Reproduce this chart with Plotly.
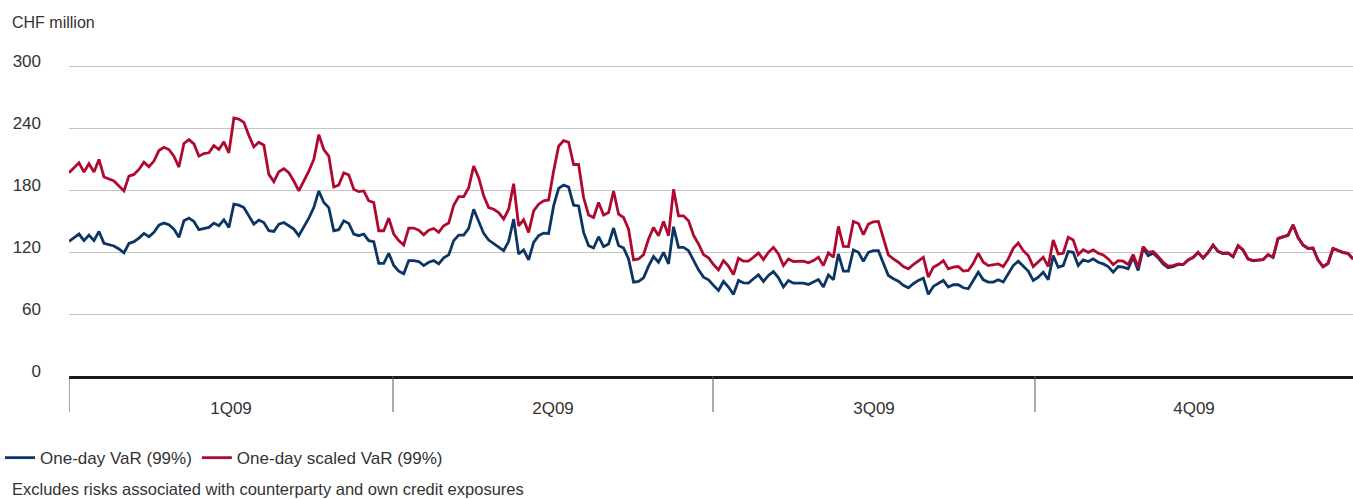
import plotly.graph_objects as go

# One-day VaR (99%), CHF million, daily 2009
var_1d = [
    130.3, 134.2, 137.4, 131.0, 136.4, 131.0, 139.9, 128.4, 127.1, 125.8, 122.9, 119.1, 128.4, 130.0, 133.5,
    138.0, 134.8, 139.0, 146.0, 148.0, 146.4, 142.2, 134.2, 150.2, 152.8, 149.6, 141.6, 142.8, 143.8, 148.0,
    145.4, 151.2, 143.8, 166.3, 165.3, 163.0, 155.0, 147.0, 150.9, 148.6, 140.6, 139.9, 147.0,
    148.6, 145.4, 142.2, 135.8, 143.8, 152.8, 163.0, 179.1, 167.9, 163.0, 140.6, 141.6, 150.2, 147.6, 137.4,
    135.8, 137.4, 131.0, 130.0, 109.1, 109.1, 118.8, 106.9, 101.5, 98.9, 111.7, 111.7, 110.8, 106.9, 110.1,
    111.7, 108.5, 114.3, 117.2, 131.0, 136.4, 136.4, 142.8, 161.4, 150.2, 138.0, 131.6,
    128.4, 125.2, 121.3, 130.3, 151.8, 118.1, 122.0, 112.4, 129.4, 135.8, 138.3, 138.0, 164.6, 181.7, 184.9,
    182.9, 165.3, 164.6, 139.0, 126.2, 123.9, 134.8, 125.2, 127.8, 143.2, 126.2, 123.9, 113.3, 90.9, 91.5,
    95.0, 106.3, 115.6, 110.1, 119.7, 108.5, 144.4, 124.5, 124.5, 121.3, 111.7, 102.7,
    95.7, 93.1, 87.7, 82.8, 91.5, 86.1, 79.0, 92.5, 90.2, 89.9, 94.1, 97.9, 91.5, 97.3, 101.1,
    95.0, 86.1, 92.5, 89.9, 89.9, 89.9, 88.6, 90.9, 93.4, 86.1, 97.9, 93.1, 118.1, 101.5, 101.5,
    122.0, 119.7, 111.1, 119.7, 121.3, 121.3, 109.1, 97.3, 94.1, 91.8, 87.7, 85.4,
    89.3, 92.5, 94.7, 79.0, 86.7, 89.3, 92.5, 86.1, 88.3, 88.3, 85.4, 84.4, 92.5, 100.5, 93.1,
    90.9, 90.9, 93.1, 90.9, 98.9, 106.9, 111.1, 106.3, 101.5, 92.5, 95.7, 100.5, 93.1, 116.5, 105.3,
    106.9, 120.4, 119.7, 106.9, 112.4, 110.8, 113.3, 110.1, 108.5, 105.9, 100.5, 105.9,
    105.3, 103.7, 114.9, 102.1, 123.6, 116.5, 118.8, 114.3, 108.5, 104.7, 105.9, 107.9, 107.9,
    112.2, 114.7, 119.5, 114.1, 119.5, 126.6, 120.5, 118.6, 118.9, 115.4, 126.0, 121.8, 113.1, 111.5, 112.2,
    112.5, 117.3, 114.7, 133.0, 134.6, 136.2, 146.2, 134.0, 126.6, 123.4, 123.7, 112.2, 105.7, 108.9, 123.4,
    121.1, 119.5, 118.6, 113.1,
]

# One-day scaled VaR (99%), CHF million
var_scaled = [
    196.7, 201.5, 206.4, 197.4, 205.4, 197.4, 209.6, 192.6, 190.3, 188.7, 183.9, 179.1, 193.5, 195.1, 199.9,
    207.0, 202.5, 208.0, 218.2, 221.4, 219.2, 212.8, 202.2, 225.0, 228.8, 224.6, 212.8, 215.3, 216.0, 223.0,
    219.2, 226.6, 216.0, 249.7, 248.7, 245.5, 232.7, 221.8, 226.2, 223.4, 195.1, 188.1, 197.7,
    200.6, 196.7, 188.7, 179.1, 188.7, 198.3, 209.6, 233.6, 219.2, 212.8, 182.9, 184.9, 196.7, 194.5, 180.7,
    178.4, 179.1, 169.5, 167.9, 140.6, 140.6, 152.8, 137.4, 131.0, 126.8, 143.2, 143.2, 141.2, 136.7, 141.2,
    142.8, 139.0, 145.4, 148.0, 165.3, 173.6, 173.6, 182.3, 203.1, 191.9, 174.3, 163.0,
    161.4, 158.2, 151.8, 161.4, 186.1, 145.4, 151.2, 139.0, 159.8, 166.3, 169.5, 170.4, 198.3, 222.4, 227.8,
    226.2, 204.7, 204.7, 172.7, 155.7, 153.4, 167.9, 155.7, 158.2, 179.1, 156.6, 153.4, 142.2, 112.4, 113.3,
    117.5, 132.6, 143.8, 135.8, 149.6, 135.8, 180.7, 155.0, 155.0, 150.2, 136.4, 127.8,
    117.5, 114.3, 107.9, 102.7, 111.7, 106.3, 98.2, 114.0, 111.1, 111.1, 114.9, 119.1, 112.7, 119.7, 124.5,
    118.1, 106.9, 113.3, 110.8, 111.1, 111.1, 109.5, 111.7, 114.9, 106.9, 119.1, 114.9, 144.8, 125.5, 125.2,
    149.6, 147.6, 136.7, 147.0, 149.2, 149.6, 134.2, 117.2, 113.3, 110.1, 105.9, 103.7,
    107.9, 111.7, 114.9, 95.7, 105.3, 107.9, 111.7, 103.7, 105.3, 105.9, 101.5, 102.1, 109.1, 118.8, 110.1,
    106.9, 107.5, 108.5, 105.9, 113.3, 123.6, 128.7, 121.3, 116.5, 105.9, 110.1, 114.9, 105.9, 131.6, 118.1,
    118.8, 134.2, 131.6, 117.5, 122.3, 119.7, 122.0, 118.8, 117.2, 113.3, 107.9, 111.7,
    111.1, 107.9, 117.5, 105.3, 125.2, 119.7, 120.4, 115.6, 110.1, 106.3, 106.9, 108.5, 107.9,
    112.4, 114.9, 119.7, 114.3, 119.7, 126.8, 120.7, 118.8, 119.1, 115.6, 126.2, 122.0, 113.3, 111.7, 112.4,
    112.7, 117.5, 114.9, 133.2, 134.8, 136.4, 146.4, 134.2, 126.8, 123.6, 123.9, 112.4, 105.9, 109.1, 123.6,
    121.3, 119.7, 118.8, 113.3,
]

trading_days = list(range(len(var_1d)))
quarter_labels = ["1Q09", "2Q09", "3Q09", "4Q09"]
quarter_edges = [0, 64.85, 128.9, 193.35, 257]
y_ticks = [0, 60, 120, 180, 240, 300]

FONT = "Liberation Sans, Arial, sans-serif"
TXT = "#333333"
BLUE = "#0b3565"
RED = "#b0092f"

fig = go.Figure()
fig.add_trace(go.Scatter(x=trading_days, y=var_1d, mode="lines", name="One-day VaR (99%)",
                         line=dict(color=BLUE, width=2.8)))
fig.add_trace(go.Scatter(x=trading_days, y=var_scaled, mode="lines", name="One-day scaled VaR (99%)",
                         line=dict(color=RED, width=2.8)))

centers = [(a + b) / 2 for a, b in zip(quarter_edges[:-1], quarter_edges[1:])]
fig.update_xaxes(range=[quarter_edges[0], quarter_edges[-1]], tickvals=centers, ticktext=quarter_labels,
                 showgrid=False, zeroline=False, showline=True, linecolor="#1a1a1a", linewidth=3,
                 ticks="", tickfont=dict(family=FONT, size=17, color=TXT), ticklabelstandoff=15)
fig.update_yaxes(range=[0, 301], tickvals=y_ticks, showgrid=True, gridcolor="#c4c4c4", gridwidth=1.2,
                 zeroline=False, showline=False, ticks="",
                 tickfont=dict(family=FONT, size=17, color=TXT), ticklabelstandoff=27, ticklabelshift=-5)

for e in quarter_edges[:-1]:
    fig.add_shape(type="line", xref="x", yref="paper", x0=e, x1=e, y0=0, y1=-36 / 311,
                  line=dict(color="#555555", width=1))

fig.add_annotation(text="CHF million", xref="paper", yref="paper", x=0, y=1, xshift=-59, yshift=43,
                   xanchor="left", yanchor="middle", showarrow=False,
                   font=dict(family=FONT, size=16, color=TXT))
fig.add_annotation(text="Excludes risks associated with counterparty and own credit exposures",
                   xref="paper", yref="paper", x=0, y=0, xshift=-59, yshift=-113,
                   xanchor="left", yanchor="middle", showarrow=False,
                   font=dict(family=FONT, size=16.5, color=TXT))

fig.update_layout(
    width=1353, height=499,
    margin=dict(l=69, r=0, t=65, b=123),
    plot_bgcolor="white", paper_bgcolor="white",
    font=dict(family=FONT, size=17, color=TXT),
    showlegend=True,
    legend=dict(orientation="h", x=-0.0537, xanchor="left", y=-0.264, yanchor="middle",
                font=dict(family=FONT, size=17, color=TXT), bgcolor="rgba(0,0,0,0)",
                itemwidth=30, tracegroupgap=0),
)

fig.write_html("out.html", config={"displayModeBar": False},
               post_script="document.body.style.margin='0';document.body.style.padding='0';")
